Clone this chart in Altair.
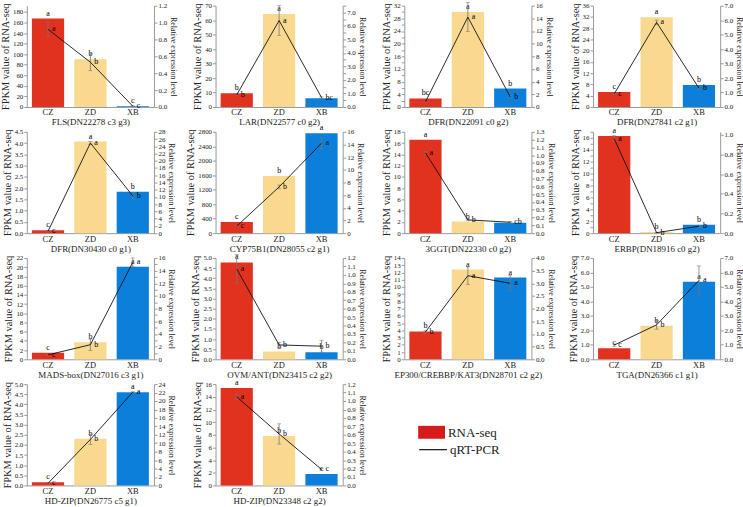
import altair as alt
import pandas as pd

FONT = "Liberation Serif"

CATS = ["CZ", "ZD", "XB"]
COLORS = ["#E0321F", "#F9D98F", "#0B7FDA"]

GENES = [
    "FLS(DN22278 c3 g3)", "LAR(DN22577 c0 g2)", "DFR(DN22091 c0 g2)", "DFR(DN27841 c2 g1)",
    "DFR(DN30430 c0 g1)", "CYP75B1(DN28055 c2 g1)", "3GGT(DN22330 c0 g2)", "ERBP(DN18916 c0 g2)",
    "MADS-box(DN27016 c3 g1)", "OVM/ANT(DN23415 c2 g2)", "EP300/CREBBP/KAT3(DN28701 c2 g2)",
    "TGA(DN26366 c1 g1)", "HD-ZIP(DN26775 c5 g1)", "HD-ZIP(DN23348 c2 g2)",
]

# RNA-seq FPKM per gene (CZ, ZD, XB)
FPKM = [
    [167.5, 90.6, 1.3],
    [9.5, 64.3, 6.1],
    [2.7, 30.0, 5.8],
    [5.3, 31.9, 7.8],
    [0.13, 4.07, 1.84],
    [310, 1580, 2760],
    [16.6, 2.05, 1.85],
    [16.3, 0.2, 1.4],
    [1.4, 3.7, 20.1],
    [4.78, 0.38, 0.35],
    [3.85, 12.4, 11.3],
    [0.76, 2.32, 5.35],
    [0.16, 2.3, 4.6],
    [15.4, 7.8, 1.8],
]

# qRT-PCR relative expression and its standard deviation
QPCR = [
    [0.92, 0.53, 0.01],
    [0.9, 6.4, 0.7],
    [0.8, 14.2, 1.6],
    [0.9, 5.85, 1.3],
    [0.5, 24.9, 10.3],
    [1.1, 7.3, 14.2],
    [1.03, 0.17, 0.14],
    [0.96, 0.005, 0.07],
    [0.7, 2.3, 15.3],
    [1.07, 0.17, 0.155],
    [1.08, 3.3, 3.0],
    [0.98, 2.38, 5.45],
    [0.5, 10.9, 22.1],
    [1.05, 0.61, 0.19],
]
QPCR_SD = [
    [0.09, 0.1, 0.005],
    [0.08, 1.1, 0.05],
    [0.1, 2.3, 0.2],
    [0.05, 0.15, 0.1],
    [0.2, 0.4, 0.9],
    [0.1, 0.3, 0.9],
    [0.02, 0.01, 0.01],
    [0.03, 0.003, 0.01],
    [0.1, 0.9, 0.7],
    [0.17, 0.03, 0.07],
    [0.05, 0.35, 0.3],
    [0.08, 0.3, 1.0],
    [0.2, 1.2, 0.1],
    [0.03, 0.12, 0.01],
]

# significance letters for RNA-seq bars and qRT-PCR points
BAR_LET = [
    ["a", "b", "c"], ["b", "a", ""], ["bc", "a", "b"], ["c", "a", "b"],
    ["c", "a", "b"], ["c", "b", "a"], ["a", "b", ""], ["a", "b", "b"],
    ["c", "b", "a"], ["a", "b", "b"], ["b", "a", "a"], ["c", "b", "a"],
    ["c", "b", "a"], ["a", "b", "c"],
]
LINE_LET = [
    ["a", "b", "c"], ["b", "a", "bc"], ["", "a", "b"], ["c", "a", "b"],
    ["c", "a", "b"], ["c", "b", "a"], ["a", "b", "cb"], ["a", "b", "b"],
    ["c", "b", "a"], ["a", "b", "b"], ["b", "a", "a"], ["c", "b", "a"],
    ["c", "b", "a"], ["a", "b", "c"],
]

# axis ranges: domain max, tick step, last labelled tick, label format
LEFT_MAX = [192, 70, 32, 36, 4.5, 2800, 18, 17, 22, 5.0, 14, 7.0, 5.0, 16]
LEFT_STEP = [20, 10, 2, 4, 0.5, 400, 2, 1, 2, 0.5, 1, 1.0, 0.5, 2]
LEFT_TOP = [180, 70, 32, 36, 4.5, 2800, 18, 17, 22, 5.0, 14, 7.0, 5.0, 16]
LEFT_FMT = ["d", "d", "d", "d", ".1f", "d", "d", "d", "d", ".1f", "d", ".1f", ".1f", "d"]
RIGHT_MAX = [1.2, 7.5, 16, 7.0, 28, 16, 1.3, 1.03, 16, 1.2, 4.0, 7.0, 24, 1.2]
RIGHT_STEP = [0.2, 0.5, 2, 1.0, 2, 2, 0.1, 0.2, 1, 0.1, 0.5, 1.0, 2, 0.1]
RIGHT_TOP = [1.2, 7.5, 16, 7.0, 28, 16, 1.3, 1.0, 16, 1.2, 4.0, 7.0, 24, 1.2]
RIGHT_FMT = [".1f", ".1f", "d", ".1f", "d", "d", ".1f", ".1f", "d", ".1f", ".1f", ".1f", "d", ".1f"]

LEGEND_LABELS = ["RNA-seq", "qRT-PCR"]

W, H = 128, 102


def tick_values(top, step):
    n = int(round(top / step))
    return [round(k * step, 4) for k in range(n + 1)]


def panel(i):
    df = pd.DataFrame({
        "cat": CATS,
        "idx": [0, 1, 2],
        "fpkm": FPKM[i],
        "rel": QPCR[i],
        "lo": [max(0.0, v - s) for v, s in zip(QPCR[i], QPCR_SD[i])],
        "hi": [v + s for v, s in zip(QPCR[i], QPCR_SD[i])],
        "bl": BAR_LET[i],
        "ll": LINE_LET[i],
    })
    x = alt.X("cat:N", sort=CATS,
              scale=alt.Scale(domain=CATS, paddingInner=0.24, paddingOuter=0.12),
              axis=alt.Axis(title=GENES[i]))
    base = alt.Chart(df).encode(x=x)

    lscale = alt.Scale(domain=[0, LEFT_MAX[i]], nice=False, zero=True)
    laxis = alt.Axis(orient="left", values=tick_values(LEFT_TOP[i], LEFT_STEP[i]),
                     format=LEFT_FMT[i], title="FPKM value of RNA-seq")
    rscale = alt.Scale(domain=[0, RIGHT_MAX[i]], nice=False, zero=True)
    raxis = alt.Axis(orient="right", values=tick_values(RIGHT_TOP[i], RIGHT_STEP[i]),
                     format=RIGHT_FMT[i], title="Relative expression level")

    bars = base.mark_bar().encode(
        y=alt.Y("fpkm:Q", scale=lscale, axis=laxis),
        color=alt.Color("cat:N", scale=alt.Scale(domain=CATS, range=COLORS), legend=None),
    )
    bar_txt = base.mark_text(baseline="bottom", dy=-1, fontSize=8, font=FONT, color="black").encode(
        y=alt.Y("fpkm:Q", scale=lscale, axis=laxis), text="bl:N")

    err = base.mark_rule(color="#777", strokeWidth=0.8).encode(
        y=alt.Y("lo:Q", scale=rscale, axis=raxis), y2="hi:Q")
    cap_lo = base.mark_tick(color="#777", size=4, thickness=0.8).encode(
        y=alt.Y("lo:Q", scale=rscale, axis=raxis))
    cap_hi = base.mark_tick(color="#777", size=4, thickness=0.8).encode(
        y=alt.Y("hi:Q", scale=rscale, axis=raxis))
    line = base.mark_line(color="#111", strokeWidth=0.9).encode(
        y=alt.Y("rel:Q", scale=rscale, axis=raxis), order="idx:Q")
    line_txt = base.mark_text(align="left", baseline="middle", dx=4, fontSize=8, font=FONT, color="black").encode(
        y=alt.Y("rel:Q", scale=rscale, axis=raxis), text="ll:N")

    left = alt.layer(bars, bar_txt)
    right = alt.layer(err, cap_lo, cap_hi, line, line_txt)
    return alt.layer(left, right).resolve_scale(y="independent").properties(width=W, height=H)


def legend_panel():
    ldf = pd.DataFrame({"label": LEGEND_LABELS})
    base = alt.Chart(ldf)
    swatch = base.transform_filter(alt.datum.label == "RNA-seq").mark_rect(color="#D71A1A").encode(
        x=alt.value(14), x2=alt.value(41), y=alt.value(42), y2=alt.value(55))
    stroke = base.transform_filter(alt.datum.label == "qRT-PCR").mark_rule(color="#111", strokeWidth=1.2).encode(
        x=alt.value(15), x2=alt.value(43), y=alt.value(66))
    txt_a = base.transform_filter(alt.datum.label == "RNA-seq").mark_text(
        align="left", baseline="middle", fontSize=13, font=FONT, color="#222").encode(
        x=alt.value(44), y=alt.value(49), text="label:N")
    txt_b = base.transform_filter(alt.datum.label == "qRT-PCR").mark_text(
        align="left", baseline="middle", fontSize=13, font=FONT, color="#222").encode(
        x=alt.value(46), y=alt.value(66), text="label:N")
    return alt.layer(swatch, stroke, txt_a, txt_b).properties(width=W, height=H)


panels = [panel(i) for i in range(len(GENES))] + [legend_panel()]

chart = alt.concat(
    *panels, columns=4, bounds="flush", spacing={"row": 25, "column": 62}
).properties(
    padding={"left": 0, "top": 0, "right": 0, "bottom": 0}
).configure_view(stroke=None).configure_axis(
    labelFont=FONT, titleFont=FONT, labelColor="#222", titleColor="#222",
    titleFontWeight="normal", domainColor="#999", tickColor="#999", grid=False,
).configure_axisLeft(
    labelFontSize=7, titleFontSize=10.5, tickSize=3, labelPadding=1, titlePadding=2,
).configure_axisRight(
    labelFontSize=7, titleFontSize=8, tickSize=3, labelPadding=1, titlePadding=2,
).configure_axisBottom(
    labelAngle=0, labelFontSize=8.5, titleFontSize=9, tickSize=0, labelPadding=1, titlePadding=1.5,
)

chart.save("out.html", embed_options={"renderer": "svg", "actions": False})
